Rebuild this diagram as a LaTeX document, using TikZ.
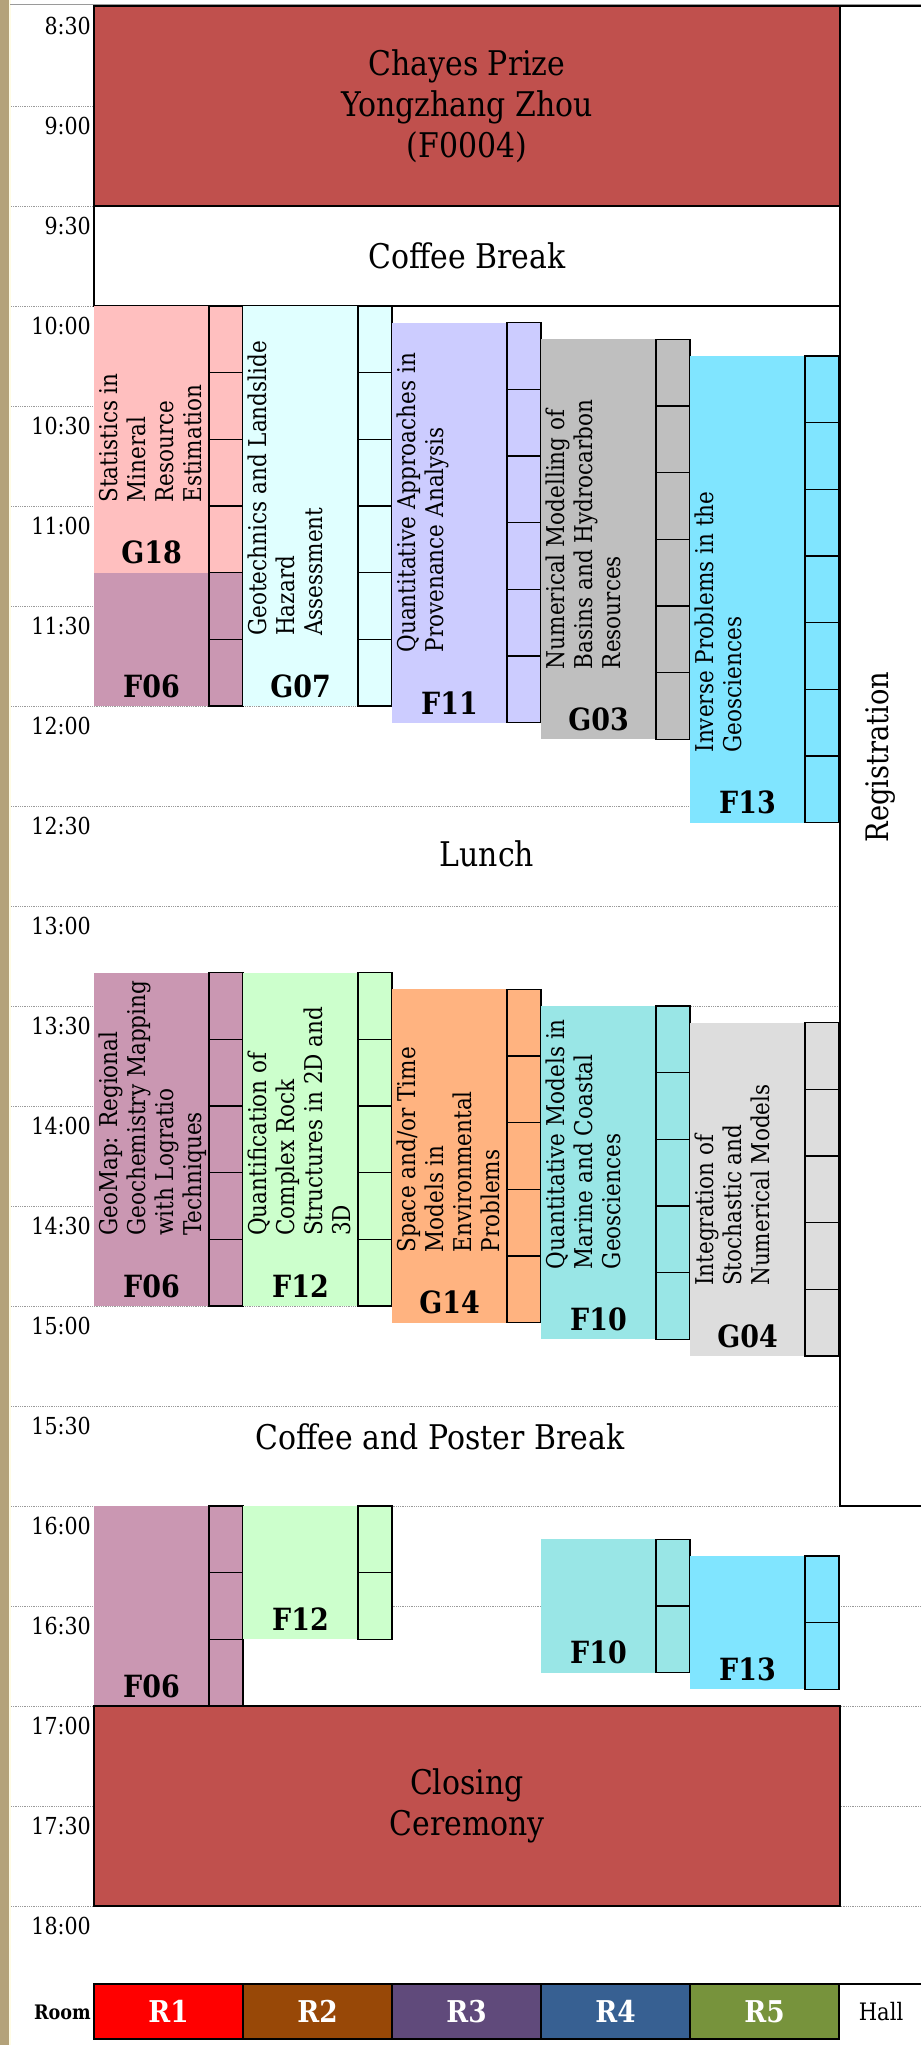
\documentclass[tikz,border=0pt]{standalone}
\usepackage{fontspec}
\setmainfont[FakeStretch=0.88]{DejaVu Serif}
\definecolor{prize}{HTML}{C0504D}
\definecolor{cG18}{HTML}{FFBFBF}
\definecolor{cF06}{HTML}{CA97B2}
\definecolor{cG07}{HTML}{E0FFFF}
\definecolor{cF11}{HTML}{CCCCFF}
\definecolor{cG03}{HTML}{BFBFBF}
\definecolor{cF13}{HTML}{80E5FF}
\definecolor{cF12}{HTML}{CCFFCC}
\definecolor{cG14}{HTML}{FFB380}
\definecolor{cF10}{HTML}{99E6E6}
\definecolor{cG04}{HTML}{DDDDDD}
\definecolor{rI}{HTML}{FF0000}
\definecolor{rII}{HTML}{984807}
\definecolor{rIII}{HTML}{604A7B}
\definecolor{rIV}{HTML}{376092}
\definecolor{rV}{HTML}{77933C}
\definecolor{stripc}{HTML}{B4A27A}
\definecolor{paleline}{HTML}{FFFCE6}
\definecolor{gridc}{HTML}{9A9A9A}
\tikzset{
  slotbox/.style={draw=black, line width=1.6pt},
  bigbox/.style={draw=black, line width=2pt, inner sep=0pt, align=center,
    font=\fontsize{34}{41}\selectfont},
  bigtext/.style={inner sep=0pt, align=center, font=\fontsize{34}{41}\selectfont},
  codelbl/.style={inner sep=0pt, font=\bfseries\fontsize{30.6}{36}\selectfont},
  ttlbl/.style={inner sep=0pt, rotate=90, anchor=north west, align=left,
    font=\fontsize{24.5}{28}\selectfont},
  timelbl/.style={inner sep=0pt, anchor=base east, font=\fontsize{23.4}{27}\selectfont},
  gridline/.style={gridc, line width=0.9pt, dash pattern=on 0.9pt off 0.9pt},
  legcell/.style={draw=black, line width=1.2pt, inner sep=0pt, minimum width=149pt,
    minimum height=55pt, text=white, font=\bfseries\fontsize{30}{36}\selectfont},
}
% name, room, start (min after 8:30), slots, colour, title, code
\newcommand\sess[7]{%
  \pgfmathsetmacro\xl{94+149*(#2-1)}%
  \pgfmathsetmacro\xs{\xl+115}%
  \pgfmathsetmacro\xr{\xl+149}%
  \pgfmathsetmacro\ya{6+#3*10/3}%
  \pgfmathsetmacro\yb{\ya+#4*200/3}%
  \fill[#5] (\xl,\ya) rectangle (\xs,\yb);
  \foreach \k in {1,...,#4}{%
    \pgfmathsetmacro\ys{\ya+(\k-1)*200/3}%
    \pgfmathsetmacro\ye{\ys+200/3}%
    \draw[slotbox,fill=#5] (\xs,\ys) rectangle (\xr,\ye);}
  \node[codelbl] (#1) at (\xl+57.5,\yb-20) {#7};
  \def\ttl{#6}\ifx\ttl\empty\else
  \node[ttlbl] (#1t) at (\xl+5,\yb-70) {#6};\fi
}
\begin{document}
\begin{tikzpicture}[x=1pt,y=-1pt]
\useasboundingbox (0,0) rectangle (921,2045);
\fill[white] (0,0) rectangle (921,2045);
% left strip
\fill[stripc] (0,0) rectangle (9,2045);
\fill[paleline] (9,0) rectangle (11,2045);
% top grey line
\draw[gridc, line width=1pt] (10,4) -- (921,4);
% half-hour grid
\foreach \i in {1,...,19} \draw[gridline] (11,{6+\i*100}) -- (921,{6+\i*100});
% time labels
\foreach \t [count=\i from 0] in {8:30,9:00,9:30,10:00,10:30,11:00,11:30,12:00,12:30,13:00,13:30,14:00,14:30,15:00,15:30,16:00,16:30,17:00,17:30,18:00}
  \node[timelbl] (tl\i) at (91,{6+\i*100+28}) {\t};
% morning plenary
\node[bigbox, fill=prize, minimum width=746pt, minimum height=200pt] (chayes) at (467,106)
  {Chayes Prize\\Yongzhang Zhou\\(F0004)};
\node[bigbox, fill=white, minimum width=746pt, minimum height=100pt] (coffee1) at (467,256)
  {Coffee Break};
% top black line
\draw[black, line width=2pt] (93,6) -- (921,6);
% morning sessions
\sess{G18}{1}{90}{4}{cG18}{Statistics in\\Mineral\\Resource\\Estimation}{G18}
\sess{F06a}{1}{170}{2}{cF06}{}{F06}
\sess{G07}{2}{90}{6}{cG07}{Geotechnics and Landslide\\Hazard\\Assessment}{G07}
\sess{F11}{3}{95}{6}{cF11}{Quantitative Approaches in\\Provenance Analysis}{F11}
\sess{G03}{4}{100}{6}{cG03}{Numerical Modelling of\\Basins and Hydrocarbon\\Resources}{G03}
\sess{F13a}{5}{105}{7}{cF13}{Inverse Problems in the\\Geosciences}{F13}
% lunch
\node[bigtext] (lunch) at (487,854) {Lunch};
% afternoon sessions
\sess{F06b}{1}{290}{5}{cF06}{GeoMap: Regional\\Geochemistry Mapping\\with Logratio\\Techniques}{F06}
\sess{F12a}{2}{290}{5}{cF12}{Quantification of\\Complex Rock\\Structures in 2D and\\3D}{F12}
\sess{G14}{3}{295}{5}{cG14}{Space and/or Time\\Models in\\Environmental\\Problems}{G14}
\sess{F10a}{4}{300}{5}{cF10}{Quantitative Models in\\Marine and Coastal\\Geosciences}{F10}
\sess{G04}{5}{305}{5}{cG04}{Integration of\\Stochastic and\\Numerical Models}{G04}
% coffee and poster
\node[bigtext] (coffee2) at (440,1437) {Coffee and Poster Break};
% registration
\fill[white] (840,7) rectangle (921,1506);
\draw[black, line width=2pt] (840,5) -- (840,1506) -- (921,1506);
\node[bigtext, rotate=90, font=\fontsize{31}{38}\selectfont] (reg) at (881,757) {Registration};
% late sessions
\sess{F06c}{1}{450}{3}{cF06}{}{F06}
\sess{F12b}{2}{450}{2}{cF12}{}{F12}
\sess{F10b}{4}{460}{2}{cF10}{}{F10}
\sess{F13b}{5}{465}{2}{cF13}{}{F13}
% closing
\node[bigbox, fill=prize, minimum width=746pt, minimum height=200pt] (closing) at (467,1806)
  {Closing\\Ceremony};
% legend
\node[inner sep=0pt, anchor=east, font=\bfseries\fontsize{20}{24}\selectfont] (room) at (91,2012) {Room};
\node[legcell, fill=rI] (R1) at (168.5,2011.5) {R1};
\node[legcell, fill=rII] (R2) at (317.5,2011.5) {R2};
\node[legcell, fill=rIII] (R3) at (466.5,2011.5) {R3};
\node[legcell, fill=rIV] (R4) at (615.5,2011.5) {R4};
\node[legcell, fill=rV] (R5) at (764.5,2011.5) {R5};
\node[inner sep=0pt, font=\fontsize{24}{29}\selectfont] (hall) at (881,2012) {Hall};
\draw[black, line width=2pt] (94,1984) -- (921,1984);
\draw[black, line width=2pt] (94,2039) -- (839,2039);
\end{tikzpicture}
\end{document}
